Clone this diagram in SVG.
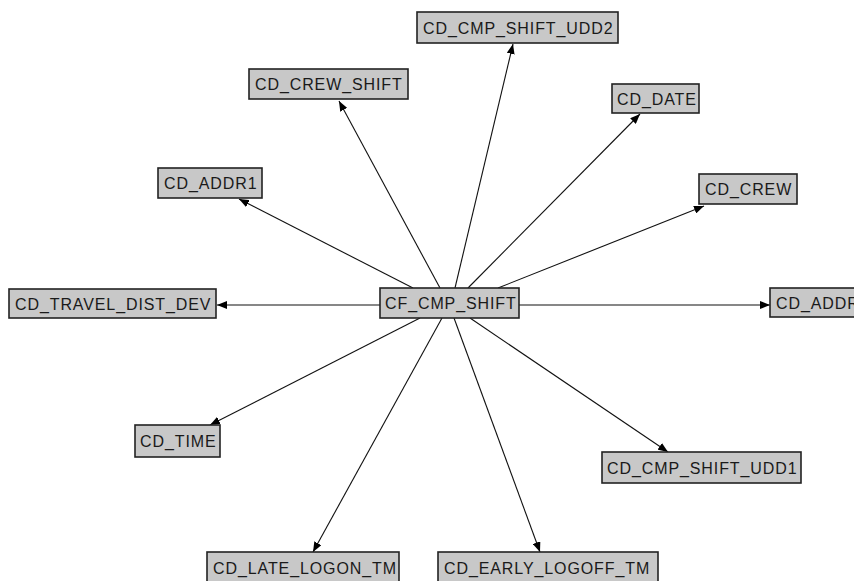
<svg xmlns="http://www.w3.org/2000/svg" width="854" height="581" viewBox="0 0 854 581">
<defs>
<style>
.box{fill:#c8c8c8;stroke:#222;stroke-width:1.6}
.lbl{font-family:"Liberation Sans",Arial,sans-serif;font-size:16px;letter-spacing:0.9px;fill:#1a1a1a}
.edge{stroke:#111;stroke-width:1.1;fill:none;marker-end:url(#arr)}
</style>
<marker id="arr" markerWidth="11" markerHeight="8" refX="10" refY="4" orient="auto" markerUnits="userSpaceOnUse">
<path d="M0,0 L10,4 L0,8 z" fill="#000"/>
</marker>
</defs>
<rect width="854" height="581" fill="#fff"/>
<g id="connectors">
<line class="edge" x1="455" y1="288" x2="513" y2="44"/>
<line class="edge" x1="440" y1="288" x2="339" y2="101"/>
<line class="edge" x1="468" y1="288" x2="640" y2="114"/>
<line class="edge" x1="498" y1="288" x2="704" y2="206"/>
<line class="edge" x1="413" y1="288" x2="239" y2="199"/>
<line class="edge" x1="380" y1="305" x2="217" y2="305"/>
<line class="edge" x1="519" y1="305" x2="770" y2="305"/>
<line class="edge" x1="420" y1="318" x2="210" y2="425"/>
<line class="edge" x1="470" y1="318" x2="668" y2="452"/>
<line class="edge" x1="442" y1="318" x2="313" y2="552"/>
<line class="edge" x1="454" y1="318" x2="540" y2="552"/>
</g>
<g id="CF_CMP_SHIFT"><rect class="box" x="380" y="288" width="139" height="30"/><text class="lbl" x="385" y="309">CF_CMP_SHIFT</text></g>
<g id="CD_TRAVEL_DIST_DEV"><rect class="box" x="9" y="289" width="207" height="29"/><text class="lbl" x="15" y="310">CD_TRAVEL_DIST_DEV</text></g>
<g id="CD_ADDR"><rect class="box" x="770" y="288" width="100" height="29"/><text class="lbl" x="776" y="309">CD_ADDR</text></g>
<g id="CD_CREW"><rect class="box" x="699" y="174" width="98" height="30"/><text class="lbl" x="705" y="195">CD_CREW</text></g>
<g id="CD_DATE"><rect class="box" x="612" y="84" width="87" height="29"/><text class="lbl" x="617" y="105">CD_DATE</text></g>
<g id="CD_CMP_SHIFT_UDD2"><rect class="box" x="417" y="12" width="201" height="31"/><text class="lbl" x="423" y="34">CD_CMP_SHIFT_UDD2</text></g>
<g id="CD_CREW_SHIFT"><rect class="box" x="249" y="69" width="159" height="30"/><text class="lbl" x="255" y="90">CD_CREW_SHIFT</text></g>
<g id="CD_ADDR1"><rect class="box" x="158" y="168" width="104" height="30"/><text class="lbl" x="164" y="189">CD_ADDR1</text></g>
<g id="CD_TIME"><rect class="box" x="135" y="425" width="85" height="32"/><text class="lbl" x="140" y="447">CD_TIME</text></g>
<g id="CD_CMP_SHIFT_UDD1"><rect class="box" x="602" y="452" width="199" height="31"/><text class="lbl" x="607" y="474">CD_CMP_SHIFT_UDD1</text></g>
<g id="CD_LATE_LOGON_TM"><rect class="box" x="207" y="552" width="192" height="34"/><text class="lbl" x="213" y="574">CD_LATE_LOGON_TM</text></g>
<g id="CD_EARLY_LOGOFF_TM"><rect class="box" x="438" y="552" width="220" height="34"/><text class="lbl" x="444" y="574">CD_EARLY_LOGOFF_TM</text></g>
</svg>
